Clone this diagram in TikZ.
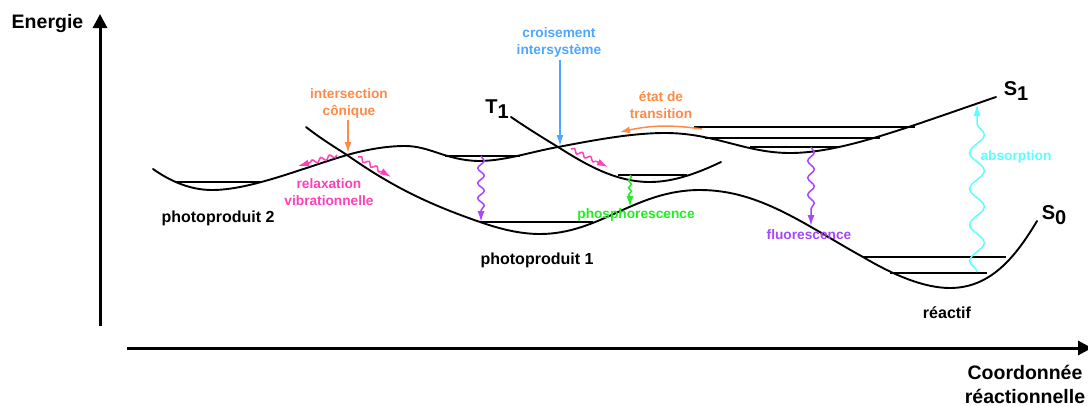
\documentclass[tikz,border=0pt]{standalone}
\usepackage{fontspec}
\setmainfont{Liberation Sans}
\usetikzlibrary{arrows.meta,decorations.pathmorphing}
\definecolor{corange}{HTML}{FF8A47}
\definecolor{cblue}{HTML}{4DA6FF}
\definecolor{cpink}{HTML}{FF40B8}
\definecolor{cpurple}{HTML}{A845FF}
\definecolor{cgreen}{HTML}{22EE22}
\definecolor{ccyan}{HTML}{5CFFFF}
\tikzset{
  x=1pt,y=-1pt,
  curve/.style={line width=1.9pt,line cap=round},
  level/.style={line width=1.1pt},
  axis/.style={line width=3pt,-{Triangle[length=14pt,width=14pt]}},
  lab/.style={font=\fontsize{16}{19}\selectfont\bfseries,align=center,inner sep=0pt},
  axlab/.style={font=\fontsize{19.5}{24}\selectfont\bfseries,align=center,inner sep=0pt},
  clab/.style={font=\fontsize{13.7}{17}\selectfont\bfseries,align=center,inner sep=0pt},
  state/.style={font=\fontsize{20}{22}\selectfont\bfseries,inner sep=0pt},
  straw/.style={line width=1.5pt,-{Latex[length=11pt,width=7pt]}},
  wavy/.style 2 args={line width=1.5pt,-{Latex[length=11pt,width=7pt]},decorate,
    decoration={snake,amplitude=#1,segment length=#2,post length=10pt}},
}
\begin{document}
\begin{tikzpicture}
\useasboundingbox (0,0) rectangle (1088,405);
% axes
\coordinate (ya) at (100,326); \coordinate (yb) at (100,14);
\coordinate (xa) at (127,348); \coordinate (xb) at (1092,348);
\draw[axis] (ya) -- (yb);
\draw[axis] (xa) -- (xb);
% levels
\foreach \a/\b/\y in {175/262/182,445/520/156,480/593/222,618/687/175,694/915/127,705/880/138,750/838/147,863/1006/257,890/987/273}
  \draw[level] (\a,\y) -- (\b,\y);
% curves
\draw[curve] (153,169) .. controls (170,181) and (190,190) .. (212,190)
  .. controls (250,190) and (300,169) .. (347,155)
  .. controls (365,150) and (385,146) .. (405,146)
  .. controls (430,146) and (445,160) .. (478,161)
  .. controls (505,161) and (530,152) .. (558,147)
  .. controls (590,141) and (630,133) .. (665,133)
  .. controls (715,133) and (745,153) .. (790,153)
  .. controls (840,153) and (900,130) .. (996,97);
\draw[curve] (511,117) .. controls (530,130) and (545,139) .. (558,147)
  .. controls (585,164) and (615,182) .. (650,182)
  .. controls (675,182) and (700,172) .. (721,162);
\draw[curve] (306,127) .. controls (320,138) and (333,146) .. (347,155)
  .. controls (390,185) and (425,203) .. (480,222)
  .. controls (500,229) and (520,234) .. (540,234)
  .. controls (600,234) and (635,190) .. (700,190)
  .. controls (760,190) and (805,225) .. (863,257)
  .. controls (895,276) and (925,288) .. (950,288)
  .. controls (990,288) and (1015,258) .. (1037,221);
% named ends of the connectors
\coordinate (cia) at (348,120); \coordinate (ci) at (348,153);
\coordinate (csa) at (560,60); \coordinate (csi) at (560,146);
\coordinate (fa) at (481,156); \coordinate (fb) at (481,222);
\coordinate (pa) at (630,175); \coordinate (pb) at (630,207);
\coordinate (ga) at (811,147); \coordinate (gb) at (811,226);
\coordinate (aa) at (977,272); \coordinate (ab) at (977,104);
\coordinate (ra) at (337,155); \coordinate (rb) at (298,166);
\coordinate (rc) at (358,157); \coordinate (rd) at (391,177);
\coordinate (rf) at (571,149); \coordinate (rg) at (608,167);
\coordinate (ta) at (702,129); \coordinate (tb) at (620,132);
% labels
\node[clab,text=corange] (lci) at (349,103) {intersection\\cônique};
\node[clab,text=cblue] (lcsi) at (559,42) {croisement\\intersystème};
\node[clab,text=corange] (ltr) at (661,105) {état de\\transition};
\node[clab,text=cpink] (lrv) at (329,192) {relaxation\\vibrationnelle};
\node[clab,text=cgreen] (lph) at (636,215) {phosphorescence};
\node[clab,text=cpurple] (lfl) at (809,235) {fluorescence};
\node[clab,text=ccyan] (lab) at (1016,157) {absorption};
\node[lab] (p2) at (218,218) {photoproduit 2};
\node[lab] (p1) at (537,260) {photoproduit 1};
\node[lab] (re) at (947,313) {réactif};
\node[axlab] (en) at (47.5,23) {Energie};
\node[axlab] (co) at (1025,384) {Coordonnée\\réactionnelle};
\node[state] (t1) at (497,109) {T\raisebox{-5pt}{1}};
\node[state] (s1) at (1016,91) {S\raisebox{-5pt}{1}};
\node[state] (s0) at (1054,215) {S\raisebox{-5pt}{0}};
% arrows
\draw[straw,corange] (cia) -- (ci);
\draw[straw,cblue] (csa) -- (csi);
\draw[line width=1.5pt,corange,-{Latex[length=10pt,width=7pt]}] (ta) to[bend right=10] (tb);
\draw[wavy={3.3pt}{15pt},cpurple] (fa) -- (fb);
\draw[wavy={1.5pt}{7pt},cgreen] (pa) -- (pb);
\draw[wavy={3.3pt}{17pt},cpurple] (ga) -- (gb);
\draw[wavy={2pt}{9pt},cpink] (ra) -- (rb);
\draw[wavy={2pt}{9pt},cpink] (rc) -- (rd);
\draw[wavy={2pt}{9pt},cpink] (rf) -- (rg);
\draw[line width=1.5pt,ccyan,-{Latex[length=12pt,width=7pt]},decorate,decoration={snake,amplitude=7.3pt,segment length=36pt,post length=18pt}] (aa) -- (ab);
\end{tikzpicture}
\end{document}
